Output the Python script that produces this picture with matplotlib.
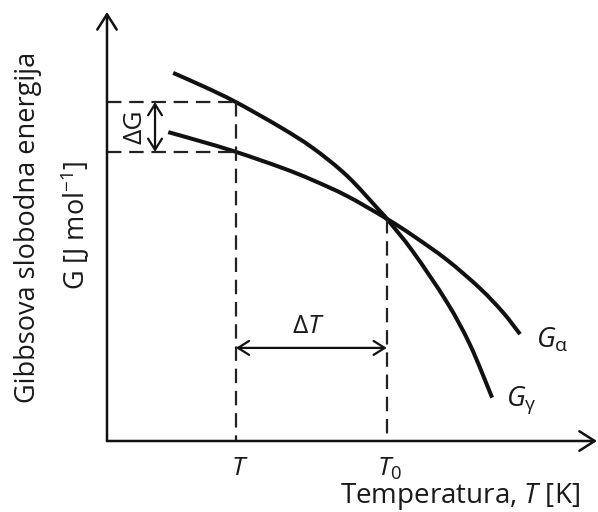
import matplotlib
matplotlib.use("Agg")
import matplotlib.pyplot as plt
from matplotlib.path import Path
from matplotlib.patches import PathPatch

# ---- data (schematic units) ----
g_gamma_T = [1.35, 2.00, 2.63, 3.53, 4.20, 4.90, 5.57, 5.71, 6.24, 6.94, 7.41, 7.86]
g_gamma_G = [8.58, 8.25, 7.90, 7.32, 6.83, 6.18, 5.36, 5.18, 4.42, 3.23, 2.24, 1.01]

g_alpha_T = [1.25, 1.90, 2.63, 3.59, 4.20, 4.90, 5.71, 6.24, 6.94, 7.61, 8.08, 8.43]
g_alpha_G = [7.20, 6.99, 6.74, 6.36, 6.08, 5.71, 5.18, 4.79, 4.22, 3.56, 3.00, 2.49]

T_mark = 2.63          # undercooled temperature T
T0_mark = 5.71         # equilibrium temperature T0
G_gamma_at_T = 7.90
G_alpha_at_T = 6.74
G_at_T0 = 5.18

tick_labels = ["$T$", "$T_0$"]
xlabel = "Temperatura, $T$ [K]"
ylabel1 = "Gibbsova slobodna energija"
ylabel2 = "G [J mol$^{\\mathregular{-1}}$]"
curve_labels = ["$G_{\\mathrm{\\alpha}}$", "$G_{\\mathrm{\\gamma}}$"]

plt.rcParams["font.family"] = ["Open Sans", "DejaVu Sans"]
plt.rcParams["mathtext.fontset"] = "custom"
plt.rcParams["mathtext.rm"] = "Open Sans"
plt.rcParams["mathtext.it"] = "Open Sans:italic"
plt.rcParams["mathtext.bf"] = "Open Sans:bold"

W, H = 598, 512
fig = plt.figure(figsize=(W / 100, H / 100), dpi=100)
L, R, B, TOP = 107, 597, 441, 12
ax = fig.add_axes([L / W, (H - B) / H, (R - L) / W, (B - TOP) / H])
ax.set_xlim(0, 10)
ax.set_ylim(0, 10)
ax.axis("off")

ink = "#111111"
txt = "#1a1a1a"


def smooth_path(xs, ys):
    """Catmull-Rom curve through the given points, as cubic Bezier path."""
    pts = list(zip(xs, ys))
    verts = [pts[0]]
    codes = [Path.MOVETO]
    n = len(pts)
    for i in range(n - 1):
        p0 = pts[i - 1] if i > 0 else pts[i]
        p1 = pts[i]
        p2 = pts[i + 1]
        p3 = pts[i + 2] if i + 2 < n else pts[i + 1]
        c1 = (p1[0] + (p2[0] - p0[0]) / 6, p1[1] + (p2[1] - p0[1]) / 6)
        c2 = (p2[0] - (p3[0] - p1[0]) / 6, p2[1] - (p3[1] - p1[1]) / 6)
        verts += [c1, c2, p2]
        codes += [Path.CURVE4] * 3
    return Path(verts, codes)


# axes with arrows
axis_arrow = dict(arrowstyle="->,head_length=0.55,head_width=0.35", lw=1.8, color=ink,
                  shrinkA=0, shrinkB=0, mutation_scale=20)
ax.annotate("", xy=(0, 10), xytext=(0, 0), arrowprops=axis_arrow, annotation_clip=False)
ax.annotate("", xy=(10, 0), xytext=(0, 0), arrowprops=axis_arrow, annotation_clip=False)

# curves
for xs, ys in [(g_gamma_T, g_gamma_G), (g_alpha_T, g_alpha_G)]:
    ax.add_patch(PathPatch(smooth_path(xs, ys), facecolor="none", edgecolor=ink,
                           lw=2.9, capstyle="butt", clip_on=False))

# dashed guide lines
dash = dict(color="#222222", lw=1.6, dashes=(6.5, 3.5))
ax.plot([0, T_mark], [G_gamma_at_T, G_gamma_at_T], **dash)
ax.plot([0, T_mark], [G_alpha_at_T, G_alpha_at_T], **dash)
ax.plot([T_mark, T_mark], [G_gamma_at_T, 0], **dash)
ax.plot([T0_mark, T0_mark], [G_at_T0, 0], **dash)

# double arrows
dbl = dict(arrowstyle="<->,head_length=0.4,head_width=0.25", lw=1.6, color=ink,
           shrinkA=0, shrinkB=0, mutation_scale=20)
ax.annotate("", xy=(0.98, G_gamma_at_T), xytext=(0.98, G_alpha_at_T), arrowprops=dbl)
ax.annotate("", xy=(T_mark, 2.17), xytext=(T0_mark, 2.17), arrowprops=dbl)

ax.text(0.57, (G_gamma_at_T + G_alpha_at_T) / 2, "\u0394G", rotation=90, ha="center", va="center",
        fontsize=19, color=txt)
ax.text(4.1, 2.66, "\u0394$T$", ha="center", va="center", fontsize=19, color=txt)

# curve labels
ax.text(8.76, 2.35, curve_labels[0], ha="left", va="center", fontsize=20, color=txt)
ax.text(8.14, 0.96, curve_labels[1], ha="left", va="center", fontsize=20, color=txt)

# tick labels
ax.text(T_mark + 0.07, -0.8, tick_labels[0], ha="center", va="baseline", fontsize=19, color=txt, clip_on=False)
ax.text(T0_mark + 0.06, -0.8, tick_labels[1], ha="center", va="baseline", fontsize=19, color=txt, clip_on=False)

# axis titles
ax.text(9.65, -1.45, xlabel, ha="right", va="baseline", fontsize=20, color=txt, clip_on=False)
ax.text(-1.61, 4.99, ylabel1, rotation=90, ha="center", va="center", fontsize=19.5, color=txt)
ax.text(-0.65, 5.03, ylabel2, rotation=90, ha="center", va="center", fontsize=19.5, color=txt)

fig.savefig("out.png", dpi=100)
